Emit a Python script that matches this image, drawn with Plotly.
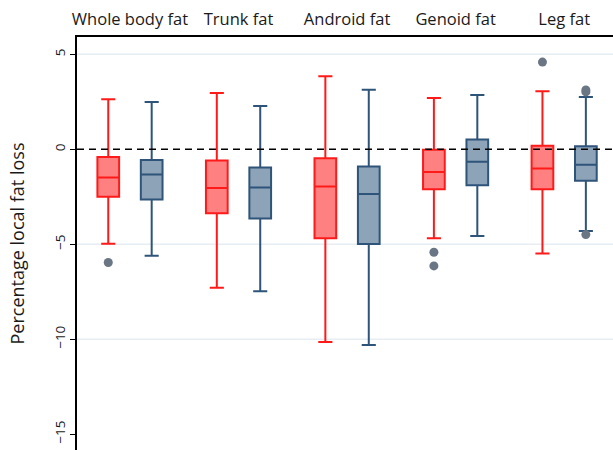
import plotly.graph_objects as go

regions = ["Whole body fat", "Trunk fat", "Android fat", "Genoid fat", "Leg fat"]

# Red group (first box in each region)
red_lower = [-4.97, -7.29, -10.15, -4.69, -5.49]
red_q1 = [-2.50, -3.37, -4.69, -2.10, -2.10]
red_median = [-1.49, -2.04, -1.96, -1.20, -1.01]
red_q3 = [-0.41, -0.59, -0.47, -0.03, 0.19]
red_upper = [2.63, 2.96, 3.85, 2.70, 3.05]
red_out_region = [0, 3, 3, 4]
red_out_value = [-5.96, -5.42, -6.14, 4.59]

# Blue group (second box in each region)
blue_lower = [-5.60, -7.47, -10.30, -4.56, -4.30]
blue_q1 = [-2.64, -3.64, -4.98, -1.89, -1.66]
blue_median = [-1.33, -2.01, -2.36, -0.66, -0.82]
blue_q3 = [-0.57, -0.96, -0.91, 0.51, 0.16]
blue_upper = [2.49, 2.28, 3.13, 2.86, 2.75]
blue_out_region = [4, 4, 4]
blue_out_value = [3.02, 3.12, -4.49]

y_ticks = [5, 0, -5, -10, -15]
y_tick_labels = ["5", "0", "\u22125", "\u221210", "\u221215"]
grid_values = [5, -5, -10]

offset = 0.2
red_x = [i - offset for i in range(len(regions))]
blue_x = [i + offset for i in range(len(regions))]

fig = go.Figure()
fig.add_trace(go.Box(
    x=red_x, q1=red_q1, median=red_median, q3=red_q3,
    lowerfence=red_lower, upperfence=red_upper,
    width=0.2, whiskerwidth=0.65, boxpoints=False,
    line=dict(color="#ff1a1a", width=2), fillcolor="#ff8080",
    showlegend=False, hoverinfo="skip"))
fig.add_trace(go.Box(
    x=blue_x, q1=blue_q1, median=blue_median, q3=blue_q3,
    lowerfence=blue_lower, upperfence=blue_upper,
    width=0.2, whiskerwidth=0.65, boxpoints=False,
    line=dict(color="#2f5479", width=2), fillcolor="#8da3b8",
    showlegend=False, hoverinfo="skip"))
fig.add_trace(go.Scatter(
    x=[r - offset for r in red_out_region], y=red_out_value, mode="markers",
    marker=dict(color="#6b7685", size=9), showlegend=False, hoverinfo="skip"))
fig.add_trace(go.Scatter(
    x=[r + offset for r in blue_out_region], y=blue_out_value, mode="markers",
    marker=dict(color="#6b7685", size=9), showlegend=False, hoverinfo="skip"))

for g in grid_values:
    fig.add_shape(type="line", xref="paper", x0=0, x1=1, yref="y", y0=g, y1=g,
                  line=dict(color="#e6edf3", width=1.5), layer="below")

fig.add_shape(type="line", xref="paper", x0=0, x1=1, yref="y", y0=0, y1=0,
              line=dict(color="black", width=1.5, dash="7px,5px"))

fig.update_layout(
    width=613, height=450,
    margin=dict(l=77, r=0, t=37, b=0),
    paper_bgcolor="white", plot_bgcolor="white",
    font=dict(family="Open Sans", color="#1a1a1a"),
    xaxis=dict(
        side="top", range=[-0.488, 4.45],
        tickvals=list(range(len(regions))), ticktext=regions,
        tickfont=dict(size=16.5), ticks="", ticklabelstandoff=4,
        showgrid=False, zeroline=False,
        showline=True, linecolor="black", linewidth=1.5,
    ),
    yaxis=dict(
        range=[-15.83, 5.91], tickvals=y_ticks, ticktext=y_tick_labels,
        tickangle=-90, tickfont=dict(size=13.5),
        ticks="outside", ticklen=5, tickcolor="black",
        showline=True, linecolor="black", linewidth=1.5,
        showgrid=False, zeroline=False,
        title=dict(text="Percentage local fat loss", font=dict(size=18), standoff=22),
    ),
)

fig.write_html("out.html", config={"displayModeBar": False},
               post_script="document.body.style.margin='0';document.body.style.overflow='hidden';")
